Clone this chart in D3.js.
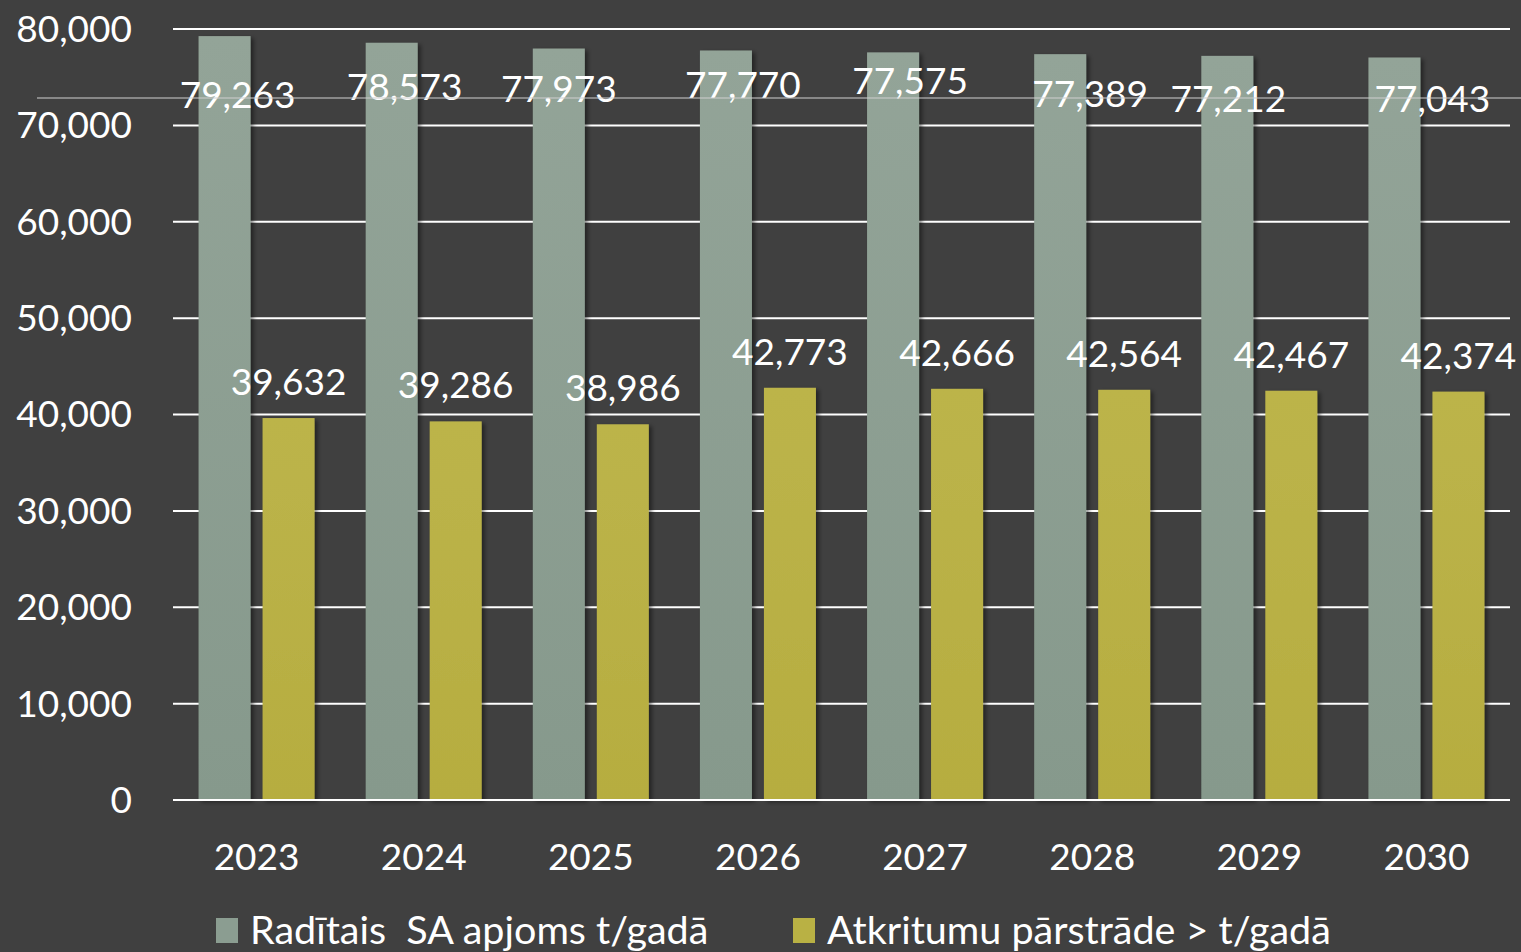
<!DOCTYPE html>
<html>
<head>
<meta charset="utf-8">
<script src="https://cdn.jsdelivr.net/npm/d3@7"></script>
<style>
  html, body { margin: 0; padding: 0; background: #404040; }
  text { font-family: Lato, "Open Sans", sans-serif; fill: #fff; }
</style>
</head>
<body>
<div id="main"></div>
<script>
// data
var years = ["2023", "2024", "2025", "2026", "2027", "2028", "2029", "2030"];
var generated = [79263, 78573, 77973, 77770, 77575, 77389, 77212, 77043];
var recycled = [39632, 39286, 38986, 42773, 42666, 42564, 42467, 42374];
var seriesNames = ["Radītais  SA apjoms t/gadā", "Atkritumu pārstrāde > t/gadā"];
var yTicks = [0, 10000, 20000, 30000, 40000, 50000, 60000, 70000, 80000];

// hand-placed label nudges in the original (px)
var grayLabelDx = [13, 13, 0, 17, 17, 30, 1, 38];
var grayLabelDy = [59, 44, 41, 34.5, 28.6, 40, 43.6, 42];

var width = 1521;
var height = 952;

var svg = d3.select('#main')
  .append('svg')
  .attr('width', width)
  .attr('height', height);

svg.append('rect')
  .attr('width', width)
  .attr('height', height)
  .attr('fill', '#404040');

var defs = svg.append('defs');
var shadow = defs.append('filter')
  .attr('id', 'shadow')
  .attr('x', '-20%').attr('y', '-5%')
  .attr('width', '150%').attr('height', '120%');
shadow.append('feDropShadow')
  .attr('dx', 3).attr('dy', 2)
  .attr('stdDeviation', 2)
  .attr('flood-color', '#000')
  .attr('flood-opacity', 0.45);

var gGray = defs.append('linearGradient').attr('id', 'gradGray')
  .attr('x1', 0).attr('y1', 0).attr('x2', 0).attr('y2', 1);
gGray.append('stop').attr('offset', '0%').attr('stop-color', '#93a498');
gGray.append('stop').attr('offset', '100%').attr('stop-color', '#86998c');

var gYel = defs.append('linearGradient').attr('id', 'gradYel')
  .attr('x1', 0).attr('y1', 0).attr('x2', 0).attr('y2', 1);
gYel.append('stop').attr('offset', '0%').attr('stop-color', '#bcb44a');
gYel.append('stop').attr('offset', '100%').attr('stop-color', '#b6ad40');

var plotLeft = 173, plotRight = 1510, plotTop = 29, plotBottom = 800;

var x = d3.scaleBand()
  .domain(years)
  .range([plotLeft, plotRight]);

var y = d3.scaleLinear()
  .domain([0, 80000])
  .range([plotBottom, plotTop]);

var barW = 52, gap = 12;
var fmt = d3.format(',');

// gridlines
svg.append('g')
  .selectAll('line')
  .data(yTicks)
  .enter().append('line')
  .attr('x1', plotLeft)
  .attr('x2', plotRight)
  .attr('y1', function(d) { return y(d); })
  .attr('y2', function(d) { return y(d); })
  .attr('stroke', '#fff')
  .attr('stroke-width', 2);

// y tick labels
svg.append('g')
  .selectAll('text')
  .data(yTicks)
  .enter().append('text')
  .attr('x', 132)
  .attr('y', function(d) { return y(d); })
  .attr('dy', '0.35em')
  .attr('text-anchor', 'end')
  .style('font-size', '37px')
  .text(function(d) { return fmt(d); });

// bars
var groups = svg.append('g')
  .selectAll('g')
  .data(years)
  .enter().append('g');

groups.append('rect')
  .attr('x', function(d) { return x(d) + x.bandwidth() / 2 - gap / 2 - barW; })
  .attr('y', function(d, i) { return y(generated[i]); })
  .attr('width', barW)
  .attr('height', function(d, i) { return plotBottom - y(generated[i]); })
  .attr('fill', 'url(#gradGray)')
  .attr('filter', 'url(#shadow)');

groups.append('rect')
  .attr('x', function(d) { return x(d) + x.bandwidth() / 2 + gap / 2; })
  .attr('y', function(d, i) { return y(recycled[i]); })
  .attr('width', barW)
  .attr('height', function(d, i) { return plotBottom - y(recycled[i]); })
  .attr('fill', 'url(#gradYel)')
  .attr('filter', 'url(#shadow)');

// baseline over the bars
svg.append('line')
  .attr('x1', plotLeft).attr('x2', plotRight)
  .attr('y1', y(0)).attr('y2', y(0))
  .attr('stroke', '#fff')
  .attr('stroke-width', 2);

// stray thin line across the top
svg.append('line')
  .attr('x1', 37).attr('x2', width)
  .attr('y1', 98).attr('y2', 98)
  .attr('stroke', '#d0d0d0')
  .attr('stroke-width', 1.2);

// value labels
groups.append('text')
  .attr('x', function(d, i) { return x(d) + x.bandwidth() / 2 - gap / 2 - barW / 2 + grayLabelDx[i]; })
  .attr('y', function(d, i) { return y(generated[i]) + grayLabelDy[i]; })
  .attr('dy', '0.35em')
  .attr('text-anchor', 'middle')
  .style('font-size', '37px')
  .text(function(d, i) { return fmt(generated[i]); });

groups.append('text')
  .attr('x', function(d) { return x(d) + x.bandwidth() / 2 + gap / 2 + barW / 2; })
  .attr('y', function(d, i) { return y(recycled[i]) - 36; })
  .attr('dy', '0.35em')
  .attr('text-anchor', 'middle')
  .style('font-size', '37px')
  .text(function(d, i) { return fmt(recycled[i]); });

// year labels
groups.append('text')
  .attr('x', function(d) { return x(d) + x.bandwidth() / 2; })
  .attr('y', 857)
  .attr('dy', '0.35em')
  .attr('text-anchor', 'middle')
  .style('font-size', '37px')
  .text(function(d) { return d; });

// legend
var legendX = [216, 793];
var legendColors = ['#8b9d91', '#b9b144'];
var legend = svg.append('g')
  .selectAll('g')
  .data(seriesNames)
  .enter().append('g')
  .attr('transform', function(d, i) { return 'translate(' + legendX[i] + ',918)'; });

legend.append('rect')
  .attr('width', 22)
  .attr('height', 25)
  .attr('fill', function(d, i) { return legendColors[i]; });

legend.append('text')
  .attr('x', 34)
  .attr('y', 12)
  .attr('dy', '0.35em')
  .style('font-size', '39.5px')
  .style('white-space', 'pre')
  .text(function(d) { return d; });
</script>
</body>
</html>
